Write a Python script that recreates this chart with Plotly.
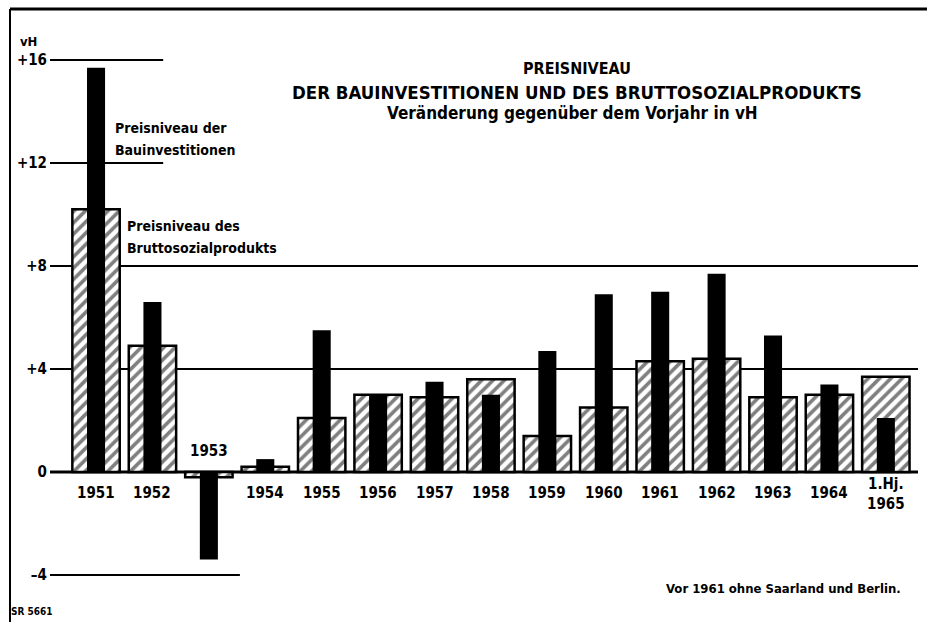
import plotly.graph_objects as go

# Preisniveau, Veränderung gegenüber dem Vorjahr in vH
years = ["1951", "1952", "1953", "1954", "1955", "1956", "1957", "1958",
         "1959", "1960", "1961", "1962", "1963", "1964", "1.Hj.<br>1965"]
bau = [15.7, 6.6, -3.4, 0.5, 5.5, 3.0, 3.5, 3.0, 4.7, 6.9, 7.0, 7.7, 5.3, 3.4, 2.1]
bsp = [10.2, 4.9, -0.2, 0.2, 2.1, 3.0, 2.9, 3.6, 1.4, 2.5, 4.3, 4.4, 2.9, 3.0, 3.7]
ytick_vals = [16, 12, 8, 4, 0, -4]
ytick_text = ["+16", "+12", "+8", "+4", "0", "\u20134"]

FONT = "DejaVu Sans Condensed"
xs = list(range(len(years)))
XMIN, XMAX = -0.816, 14.57

# plot area: x 50..918 px, y 20..600 px
def px_x(p):
    return (p - 50) / 868

def px_y(p):
    return (600 - p) / 580

fig = go.Figure()
# hatched bars (Bruttosozialprodukt) behind
fig.add_trace(go.Bar(
    x=xs, y=bsp, width=0.84,
    marker=dict(color="white", line=dict(color="black", width=2.5),
                pattern=dict(shape="/", fgcolor="black", bgcolor="white",
                             size=8, solidity=0.45)),
    showlegend=False))
# black bars (Bauinvestitionen) in front
fig.add_trace(go.Bar(
    x=xs, y=bau, width=0.32,
    marker=dict(color="black", line=dict(width=0)),
    showlegend=False))

# partial grid lines, as in the original
grid_ends = {16: 1.19, 12: 1.19, 8: XMAX, 4: XMAX, 0: XMAX, -4: 2.55}
for v, x1 in grid_ends.items():
    fig.add_shape(type="line", xref="x", yref="y", x0=XMIN, x1=x1, y0=v, y1=v,
                  line=dict(color="black", width=3 if v == 0 else 2), layer="below")

# frame
fig.add_shape(type="line", xref="paper", yref="paper", x0=px_x(10), x1=px_x(930),
              y0=px_y(9), y1=px_y(9), line=dict(color="black", width=3))
fig.add_shape(type="line", xref="paper", yref="paper", x0=px_x(10), x1=px_x(10),
              y0=px_y(9), y1=px_y(625), line=dict(color="black", width=2))

bold = dict(family=FONT, color="black", weight="bold")

# year labels
for i, lab in enumerate(years):
    if bau[i] < 0:
        fig.add_annotation(x=i, y=0, yref="y", text=lab, showarrow=False,
                           yanchor="bottom", yshift=10, font=dict(size=15, **bold))
    else:
        fig.add_annotation(x=i, y=0, yref="y", text=lab, showarrow=False,
                           yanchor="top", yshift=-1 if "<br>" in lab else -10,
                           font=dict(size=15, **bold))

# titles
fig.add_annotation(xref="paper", yref="paper", x=px_x(577), y=px_y(68), yanchor="middle",
                   text="PREISNIVEAU", showarrow=False, font=dict(size=16, **bold))
fig.add_annotation(xref="paper", yref="paper", x=px_x(577), y=px_y(92), yanchor="middle",
                   text="DER BAUINVESTITIONEN UND DES BRUTTOSOZIALPRODUKTS",
                   showarrow=False, font=dict(size=18.5, **bold))
fig.add_annotation(xref="paper", yref="paper", x=px_x(572), y=px_y(113), yanchor="middle",
                   text="Veränderung gegenüber dem Vorjahr in vH",
                   showarrow=False, font=dict(size=17, **bold))

# series labels
labels = [("Preisniveau der", 113, 128), ("Bauinvestitionen", 113, 150),
          ("Preisniveau des", 125, 226), ("Bruttosozialprodukts", 125, 248)]
for txt, lx, ly in labels:
    fig.add_annotation(xref="paper", yref="paper", x=px_x(lx), y=px_y(ly),
                       xanchor="left", yanchor="middle", text=txt, showarrow=False,
                       font=dict(size=14, **bold))

# axis unit, notes
fig.add_annotation(xref="paper", yref="paper", x=px_x(39), y=px_y(41), xanchor="right",
                   yanchor="middle", text="vH", showarrow=False, font=dict(size=13, **bold))
fig.add_annotation(xref="paper", yref="paper", x=px_x(903), y=px_y(588), xanchor="right",
                   yanchor="middle", text="Vor 1961 ohne Saarland und Berlin.",
                   showarrow=False, font=dict(size=13, **bold))
fig.add_annotation(xref="paper", yref="paper", x=px_x(9), y=px_y(611), xanchor="left",
                   yanchor="middle", text="SR 5661",
                   showarrow=False, font=dict(size=10, **bold))

fig.update_layout(
    width=927, height=622,
    margin=dict(l=50, r=9, t=20, b=22),
    paper_bgcolor="white", plot_bgcolor="white",
    barmode="overlay",
    xaxis=dict(range=[XMIN, XMAX], showticklabels=False, showgrid=False,
               zeroline=False, showline=False, ticks=""),
    yaxis=dict(range=[-4.97, 17.55], tickvals=ytick_vals, ticktext=ytick_text,
               showgrid=False, zeroline=False, showline=False, ticks="",
               tickfont=dict(size=15, **bold), ticklabelstandoff=2),
)

fig.write_html("out.html", config={"displayModeBar": False},
               post_script="document.body.style.margin='0px';")
